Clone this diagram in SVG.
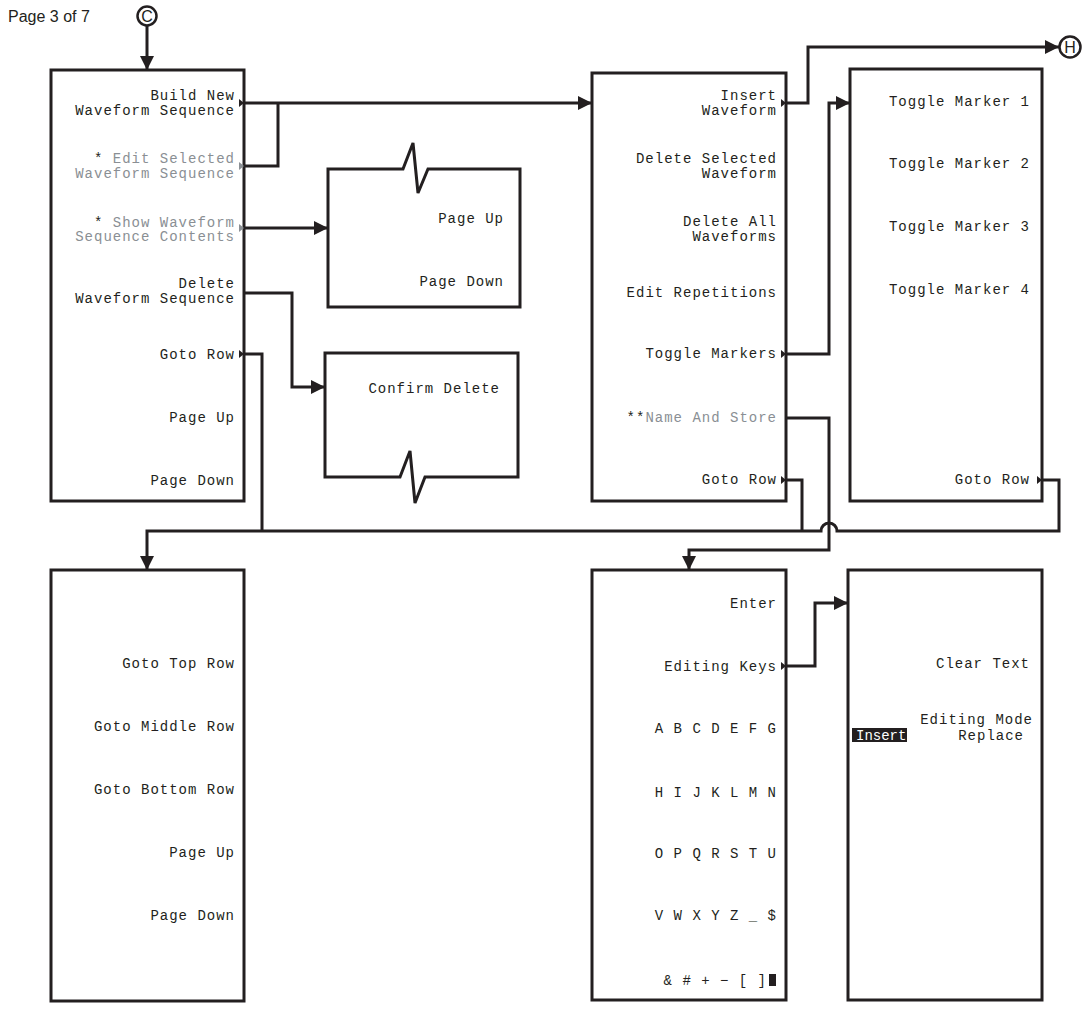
<svg xmlns="http://www.w3.org/2000/svg" width="1089" height="1010" viewBox="0 0 1089 1010">
<style>
.box{fill:#fff;stroke:#231f20;stroke-width:3}
.ln{fill:none;stroke:#231f20;stroke-width:3}
.t{font-family:"Liberation Mono",monospace;font-size:14px;letter-spacing:1px;fill:#231f20;text-anchor:end}
.g{fill:#8a8f94}
.k{fill:#231f20}
.tri{fill:#231f20}
.trig{fill:#8a8f94}
.lbl{font-family:"Liberation Sans",Arial,sans-serif;font-size:16px;fill:#231f20}
</style>
<defs>
<marker id="ah" markerWidth="14" markerHeight="14" refX="14" refY="7" orient="auto" markerUnits="userSpaceOnUse"><path d="M0,0 L14,7 L0,14 z" fill="#231f20"/></marker>
</defs>
<rect width="1089" height="1010" fill="#fff"/>
<text x="8" y="22" class="lbl">Page 3 of 7</text>
<g id="offC"><circle cx="147" cy="16" r="9.5" fill="#fff" stroke="#231f20" stroke-width="2.5"/><text x="147" y="21.5" class="lbl" text-anchor="middle" font-size="15">C</text></g>
<g id="offH"><circle cx="1070" cy="47" r="10.5" fill="#fff" stroke="#231f20" stroke-width="2.5"/><text x="1070" y="53" class="lbl" text-anchor="middle" font-size="16">H</text></g>

<g id="connectors">
<path class="ln" d="M147,26 V70" marker-end="url(#ah)"/>
<path class="ln" d="M244,103 H592" marker-end="url(#ah)"/>
<path class="ln" d="M244,166 H278 V103"/>
<path class="ln" d="M244,228 H328" marker-end="url(#ah)"/>
<path class="ln" d="M244,293 H292 V387 H325" marker-end="url(#ah)"/>
<path class="ln" d="M244,354 H262 V531"/>
<path class="ln" d="M786,103 H808 V47 H1059" marker-end="url(#ah)"/>
<path class="ln" d="M786,354 H829 V103 H850" marker-end="url(#ah)"/>
<path class="ln" d="M786,418 H829 V550 H689 V570" marker-end="url(#ah)"/>
<path class="ln" d="M786,480 H802 V531"/>
<path class="ln" d="M1042,480 H1059 V531 H837 A8,8 0 0 0 821,531 H147 V570" marker-end="url(#ah)"/>
<path class="ln" d="M786,666 H815 V603 H848" marker-end="url(#ah)"/>
</g>

<g id="buildMenu">
<rect class="box" x="51" y="70" width="193" height="431"/>
<text class="t" x="235" y="100">Build New</text>
<text class="t" x="235" y="115">Waveform Sequence</text>
<path class="tri" d="M239,99 L244,103 L239,107 z"/>
<text class="t" x="235" y="163"><tspan class="k">* </tspan><tspan class="g">Edit Selected</tspan></text>
<text class="t g" x="235" y="178">Waveform Sequence</text>
<path class="trig" d="M239,162 L244,166 L239,170 z"/>
<text class="t" x="235" y="227"><tspan class="k">* </tspan><tspan class="g">Show Waveform</tspan></text>
<text class="t g" x="235" y="241">Sequence Contents</text>
<path class="trig" d="M239,224 L244,228 L239,232 z"/>
<text class="t" x="235" y="288">Delete</text>
<text class="t" x="235" y="303">Waveform Sequence</text>
<text class="t" x="235" y="359">Goto Row</text>
<path class="tri" d="M239,350 L244,354 L239,358 z"/>
<text class="t" x="235" y="422">Page Up</text>
<text class="t" x="235" y="485">Page Down</text>
</g>

<g id="pageMenu">
<path class="box" d="M328,169 H403 L413,143 L418,193 L428,169 H520 V307 H328 Z"/>
<text class="t" x="504" y="223">Page Up</text>
<text class="t" x="504" y="286">Page Down</text>
</g>

<g id="confirmMenu">
<path class="box" d="M325,353 H518 V477 H425 L415,503 L410,451 L400,477 H325 Z"/>
<text class="t" x="500" y="393">Confirm Delete</text>
</g>

<g id="insertMenu">
<rect class="box" x="592" y="73" width="194" height="428"/>
<text class="t" x="777" y="100">Insert</text>
<text class="t" x="777" y="115">Waveform</text>
<path class="tri" d="M781,99 L786,103 L781,107 z"/>
<text class="t" x="777" y="163">Delete Selected</text>
<text class="t" x="777" y="178">Waveform</text>
<text class="t" x="777" y="226">Delete All</text>
<text class="t" x="777" y="241">Waveforms</text>
<text class="t" x="777" y="297">Edit Repetitions</text>
<text class="t" x="777" y="358">Toggle Markers</text>
<path class="tri" d="M781,350 L786,354 L781,358 z"/>
<text class="t" x="777" y="422"><tspan class="k">**</tspan><tspan class="g">Name And Store</tspan></text>
<text class="t" x="777" y="484">Goto Row</text>
<path class="tri" d="M781,476 L786,480 L781,484 z"/>
</g>

<g id="toggleMenu">
<rect class="box" x="850" y="69" width="192" height="432"/>
<text class="t" x="1030" y="106">Toggle Marker 1</text>
<text class="t" x="1030" y="168">Toggle Marker 2</text>
<text class="t" x="1030" y="231">Toggle Marker 3</text>
<text class="t" x="1030" y="294">Toggle Marker 4</text>
<text class="t" x="1030" y="484">Goto Row</text>
<path class="tri" d="M1037,476 L1042,480 L1037,484 z"/>
</g>

<g id="gotoMenu">
<rect class="box" x="51" y="570" width="193" height="431"/>
<text class="t" x="235" y="668">Goto Top Row</text>
<text class="t" x="235" y="731">Goto Middle Row</text>
<text class="t" x="235" y="794">Goto Bottom Row</text>
<text class="t" x="235" y="857">Page Up</text>
<text class="t" x="235" y="920">Page Down</text>
</g>

<g id="nameMenu">
<rect class="box" x="592" y="570" width="194" height="430"/>
<text class="t" x="777" y="608">Enter</text>
<text class="t" x="777" y="671">Editing Keys</text>
<path class="tri" d="M781,662 L786,666 L781,670 z"/>
<text class="t" x="777" y="733">A B C D E F G</text>
<text class="t" x="777" y="797">H I J K L M N</text>
<text class="t" x="777" y="858">O P Q R S T U</text>
<text class="t" x="777" y="920">V W X Y Z _ $</text>
<text class="t" x="767" y="985">&amp; # + − [ ]</text>
<rect x="769" y="974" width="7" height="12" fill="#231f20"/>
</g>

<g id="editMenu">
<rect class="box" x="848" y="570" width="194" height="430"/>
<text class="t" x="1030" y="668">Clear Text</text>
<text class="t" x="1033" y="724">Editing Mode</text>
<rect x="852" y="728" width="55" height="14" fill="#231f20"/>
<text x="856" y="740" font-family="Liberation Mono, monospace" font-size="14" fill="#fff">Insert</text>
<text class="t" x="1024" y="740">Replace</text>
</g>
</svg>
